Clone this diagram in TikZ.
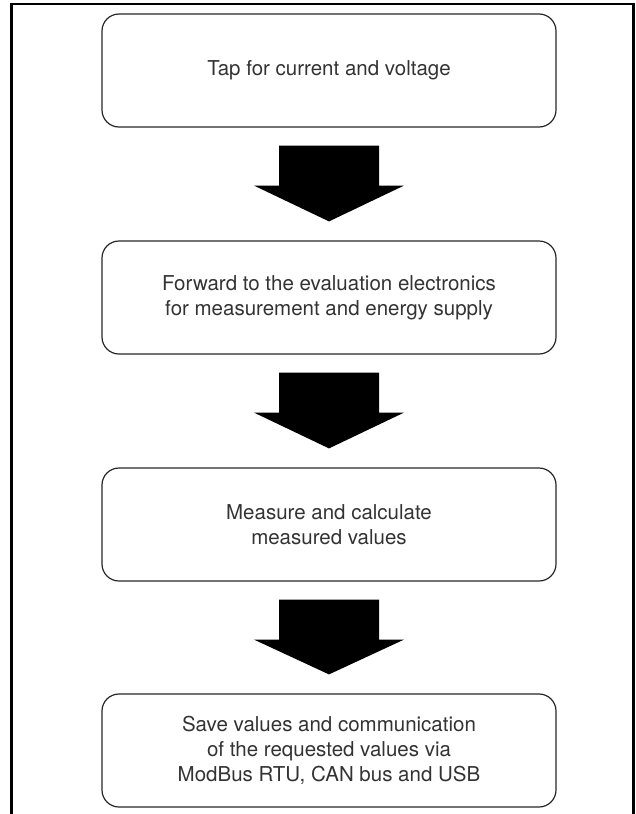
\documentclass[tikz,border=0pt]{standalone}
\usepackage{fontspec}
\setmainfont{TeX Gyre Heros}
\usepackage{tikz}
\usetikzlibrary{positioning}
\tikzset{
  box/.style={draw=black!85, line width=1.2pt, rounded corners=17pt, align=center, minimum width=454pt, minimum height=113pt, inner sep=0pt, text=black!80, font=\fontsize{20.5}{25}\selectfont},
  bigarr/.style={fill=black},
  frame/.style={line width=2.5pt}
}
\newcommand{\flowarrow}[2]{%
  \fill[bigarr] ([xshift=-50pt,yshift=-18pt]#1.south) -- ([xshift=50pt,yshift=-18pt]#1.south)
    -- ([xshift=50pt,yshift=-58pt]#1.south) -- ([xshift=75pt,yshift=-58pt]#1.south)
    -- ([yshift=19pt]#2.north) -- ([xshift=-75pt,yshift=-58pt]#1.south)
    -- ([xshift=-50pt,yshift=-58pt]#1.south) -- cycle;}

\begin{document}
\begin{tikzpicture}[x=1pt, y=1pt]
    \useasboundingbox (0,0) rectangle (635,-814);
    \draw[frame] (11.5,-814) -- (11.5,-4) -- (633.5,-4) -- (633.5,-814);

    \node[box] (tap) at (329,-70.5) {Tap for current and voltage};
    \node[box] (fwd) at (329,-297.5) {Forward to the evaluation electronics\\for measurement and energy supply};
    \node[box] (meas) at (329,-524.5) {Measure and calculate\\measured values};
    \node[box] (save) at (329,-750.5) {Save values and communication\\of the requested values via\\ModBus RTU, CAN bus and USB};

    \flowarrow{tap}{fwd}
    \flowarrow{fwd}{meas}
    \flowarrow{meas}{save}
  \end{tikzpicture}
\end{document}
